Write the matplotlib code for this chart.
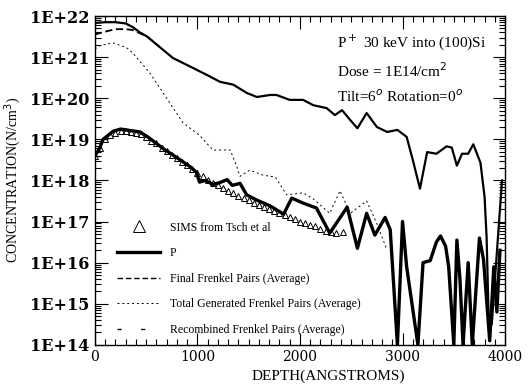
import math
import matplotlib
matplotlib.use("Agg")
import matplotlib.pyplot as plt
from matplotlib.lines import Line2D
from matplotlib.ticker import MultipleLocator, FuncFormatter, LogLocator, NullFormatter

# Values (depth in angstroms, concentration as log10 of N/cm^3)
sims_depth = [0, 50, 100, 150, 200, 250, 300, 350, 400, 450, 500, 550, 600, 650, 700,
              750, 800, 850, 900, 950, 1000, 1050, 1100, 1150, 1200, 1250, 1300, 1350,
              1400, 1450, 1500, 1550, 1600, 1650, 1700, 1750, 1800, 1850, 1900, 1950,
              2000, 2050, 2100, 2150, 2200, 2250, 2300, 2350, 2420]
sims_log = [18.6, 18.8, 19.0, 19.1, 19.15, 19.2, 19.2, 19.18, 19.15, 19.12, 19.05, 18.97,
            18.9, 18.8, 18.72, 18.62, 18.55, 18.45, 18.37, 18.28, 18.18, 18.1, 18.02,
            17.95, 17.88, 17.82, 17.75, 17.7, 17.63, 17.57, 17.52, 17.46, 17.4, 17.35,
            17.3, 17.25, 17.2, 17.15, 17.1, 17.05, 17.0, 16.96, 16.92, 16.88, 16.83,
            16.78, 16.75, 16.72, 16.75]

p_depth = [0, 40, 80, 130, 180, 250, 330, 440, 520, 600, 680, 760, 850, 930, 990, 1020,
           1080, 1150, 1220, 1290, 1340, 1415, 1480, 1580, 1710, 1840, 1920, 2030, 2160,
           2290, 2460, 2560, 2650, 2730, 2830, 2880, 2950, 3000, 3040, 3150, 3200, 3270,
           3330, 3370, 3420, 3450, 3500, 3530, 3560, 3590, 3640, 3680, 3750, 3790, 3850,
           3890, 3920, 3950]
p_log = [18.6, 18.75, 19.0, 19.1, 19.2, 19.25, 19.22, 19.18, 19.05, 18.9, 18.75, 18.62,
         18.47, 18.33, 18.2, 17.96, 18.0, 17.9, 17.95, 18.02, 17.88, 17.93, 17.65, 17.52,
         17.38, 17.18, 17.57, 17.45, 17.33, 16.72, 17.35, 16.35, 17.2, 16.67, 17.1, 16.8,
         14.0, 17.0, 15.9, 14.0, 16.0, 16.05, 16.5, 16.65, 16.4, 15.9, 14.0, 16.55, 15.6,
         14.0, 16.0, 14.0, 16.6, 16.07, 14.1, 15.9, 14.8, 16.3]

top_depth = [0, 100, 200, 300, 370, 440, 510, 630, 760, 930, 1090, 1220, 1350, 1480,
             1580, 1710, 1770, 1900, 2030, 2130, 2260, 2340, 2410, 2490, 2560, 2650, 2750,
             2850, 2950, 3040, 3100, 3170, 3240, 3330, 3430, 3480, 3530, 3580, 3640, 3690,
             3760, 3800, 3820, 3840, 3870, 3970]
top_log = [21.83, 21.85, 21.85, 21.82, 21.73, 21.6, 21.5, 21.25, 20.98, 20.77, 20.57,
           20.4, 20.33, 20.13, 20.03, 20.08, 20.08, 19.96, 19.96, 19.83, 19.76, 19.59,
           19.71, 19.47, 19.27, 19.64, 19.3, 19.18, 19.23, 19.06, 18.5, 17.8, 18.69, 18.65,
           18.83, 18.8, 18.36, 18.65, 18.65, 18.88, 18.43, 17.6, 16.6, 14.6, 14.5, 18.0]

final_depth = [0, 100, 200, 300, 370, 440, 510, 630]
final_log = [21.55, 21.62, 21.68, 21.68, 21.66, 21.58, 21.5, 21.25]

total_depth = [0, 50, 175, 310, 370, 540, 700, 860, 1020, 1150, 1320, 1385, 1415, 1510,
               1640, 1760, 1870, 2030, 2130, 2290, 2390, 2490, 2650, 2750, 2850]
total_log = [21.2, 21.28, 21.35, 21.23, 21.1, 20.6, 20.0, 19.4, 19.1, 18.74, 18.74, 18.33,
             18.1, 18.25, 18.13, 18.08, 17.65, 17.7, 17.55, 17.2, 17.75, 17.2, 17.5, 16.95,
             16.3]

x_ticks = [0, 1000, 2000, 3000, 4000]
y_decades = [14, 15, 16, 17, 18, 19, 20, 21, 22]

plt.rcParams['font.family'] = ['Liberation Serif', 'DejaVu Serif']


def tolin(vals):
    return [10.0 ** v for v in vals]


fig = plt.figure(figsize=(5.30, 3.91), dpi=100)
ax = fig.add_axes([0.179, 0.118, 0.774, 0.841])

ax.plot(top_depth, tolin(top_log), color='black', lw=1.6)
ax.plot(final_depth, tolin(final_log), color='black', lw=1.3, ls=(0, (4, 2)))
ax.plot(total_depth, tolin(total_log), color='black', lw=0.7, ls=(0, (2, 3)))
ax.plot(p_depth, tolin(p_log), color='black', lw=2.4)
ax.plot(sims_depth, tolin(sims_log), ls='none', marker='^', ms=4,
        mfc='none', mec='black', mew=0.7)

ax.set_yscale('log')
ax.set_xlim(0, 4000)
ax.set_ylim(1e14, 1e22)

ax.set_xticks(x_ticks)
ax.xaxis.set_minor_locator(MultipleLocator(100))
ax.set_yticks(tolin(y_decades))
ax.yaxis.set_minor_locator(LogLocator(base=10, subs=range(2, 10), numticks=100))
ax.yaxis.set_minor_formatter(NullFormatter())
ax.yaxis.set_major_formatter(FuncFormatter(lambda v, p: '1E+%d' % round(math.log10(v))))
ax.tick_params(which='both', direction='in', top=True, right=True, width=0.8)
ax.tick_params(which='major', length=9)
ax.tick_params(which='minor', length=4)
ax.tick_params(axis='y', which='major', pad=4)
ax.tick_params(axis='x', which='major', pad=4)
for lab in ax.get_yticklabels():
    lab.set_fontfamily('DejaVu Serif')
    lab.set_fontweight('bold')
    lab.set_fontsize(11.5)
for lab in ax.get_xticklabels():
    lab.set_fontfamily('DejaVu Serif')
    lab.set_fontsize(10)
for s in ax.spines.values():
    s.set_linewidth(1.0)

ax.set_xlabel('DEPTH(ANGSTROMS)', fontsize=11)
ax.xaxis.set_label_coords(0.57, -0.075)
ax.set_ylabel('CONCENTRATION(N/cm$^3$)', fontsize=10)
ax.yaxis.set_label_coords(-0.175, 0.5)

ax.text(0.59, 0.905, 'P$^+$ 30 keV into (100)Si', transform=ax.transAxes, fontsize=11)
ax.text(0.59, 0.815, 'Dose = 1E14/cm$^2$', transform=ax.transAxes, fontsize=11)
ax.text(0.59, 0.74, 'Tilt=6$^o$ Rotation=0$^o$', transform=ax.transAxes, fontsize=11)

handles = [
    Line2D([], [], ls='none', marker='^', ms=9, mfc='none', mec='black', mew=0.7),
    Line2D([], [], color='black', lw=2.4),
    Line2D([], [], color='black', lw=1.0, ls=(0, (4, 2))),
    Line2D([], [], color='black', lw=0.7, ls=(0, (2, 3))),
    Line2D([], [], color='black', lw=1.0, ls=(0, (3, 14))),
]
labels = ['SIMS from Tsch et al', 'P', 'Final Frenkel Pairs (Average)',
          'Total Generated Frenkel Pairs (Average)', 'Recombined Frenkel Pairs (Average)']
ax.legend(handles, labels, loc='upper left', bbox_to_anchor=(0.035, 0.40), frameon=False,
          fontsize=8.5, handlelength=3.6, handletextpad=0.85, labelspacing=1.15,
          borderpad=0.2)

fig.savefig('out.png', dpi=100)
